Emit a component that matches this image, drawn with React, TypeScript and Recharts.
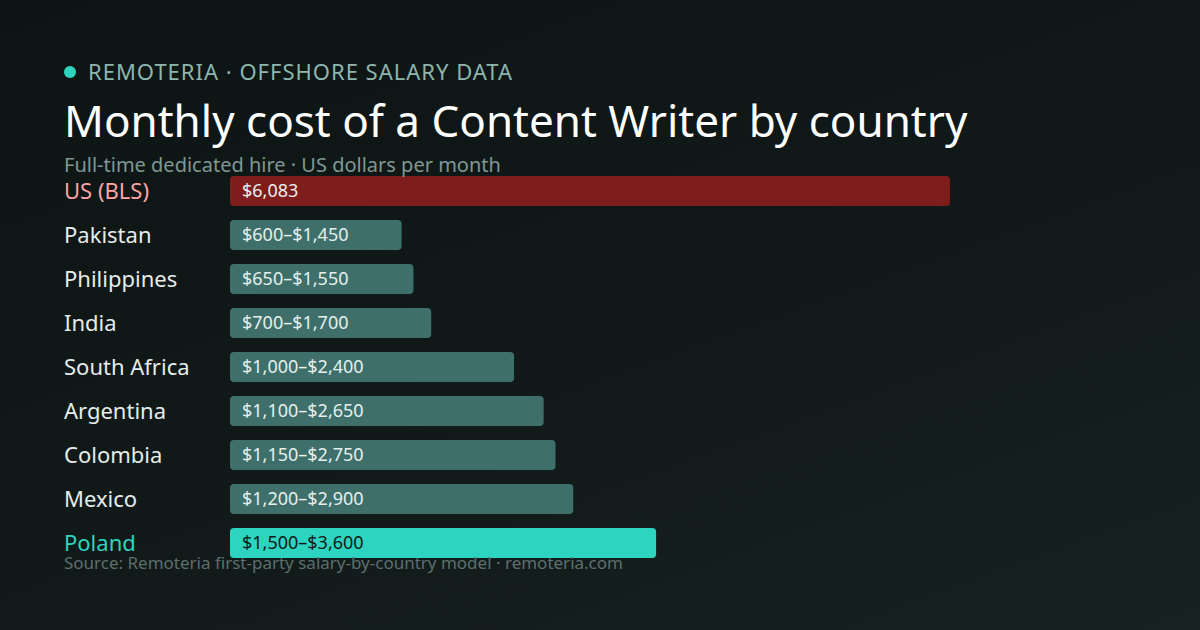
import React from "react"
import { BarChart, Bar, XAxis, YAxis, Cell, LabelList } from "recharts"

const countries = [
  "US (BLS)", "Pakistan", "Philippines", "India", "South Africa",
  "Argentina", "Colombia", "Mexico", "Poland",
]
const lowValues = [6083, 600, 650, 700, 1000, 1100, 1150, 1200, 1500]
const highValues = [6083, 1450, 1550, 1700, 2400, 2650, 2750, 2900, 3600]

const FONT = "'Noto Sans', sans-serif"
const fmt = (v: number) => "$" + v.toLocaleString("en-US")

const rows = countries.map((name, i) => ({
  name,
  low: lowValues[i],
  high: highValues[i],
  label: lowValues[i] === highValues[i] ? fmt(highValues[i]) : `${fmt(lowValues[i])}–${fmt(highValues[i])}`,
}))

// first row is the US benchmark, last is the highlighted country
const barColor = (i: number) => (i === 0 ? "#7f1d1d" : i === rows.length - 1 ? "#2dd4bf" : "#3e6f6a")
const nameColor = (i: number) => (i === 0 ? "#fca5a5" : i === rows.length - 1 ? "#2dd4bf" : "#e5ecea")

function CountryTick(props: any) {
  const { y, payload, index } = props
  return (
    <text x={64} y={y} dy={8} textAnchor="start" fontFamily={FONT} fontSize={22} fill={nameColor(index)}>
      {payload.value}
    </text>
  )
}

function BarText(props: any) {
  const { x, y, height, value, index } = props
  return (
    <text x={x + 12} y={y + height / 2} dy={6} fontFamily={FONT} fontSize={18}
      fill={index === rows.length - 1 ? "#0f1a18" : "#e6efed"}>
      {value}
    </text>
  )
}

export default function App() {
  return (
    <div style={{
      position: "absolute", left: 0, top: 0, width: 1200, height: 630, overflow: "hidden",
      background: "linear-gradient(160deg, #0d1514 0%, #111a19 55%, #172120 100%)",
    }}>
      <BarChart width={1200} height={630} data={rows} layout="vertical"
        margin={{ top: 169, right: 250, bottom: 65, left: 0 }}>
        <XAxis type="number" domain={[0, 6083]} hide />
        <YAxis type="category" dataKey="name" width={230} axisLine={false} tickLine={false}
          tick={<CountryTick />} interval={0} />
        <Bar dataKey="high" barSize={30} radius={4} isAnimationActive={false}>
          {rows.map((r, i) => <Cell key={r.name} fill={barColor(i)} />)}
          <LabelList dataKey="label" content={<BarText />} />
        </Bar>
      </BarChart>
      <svg width={1200} height={630} style={{ position: "absolute", left: 0, top: 0, pointerEvents: "none" }}>
        <circle cx={70} cy={72} r={6} fill="#2dd4bf" />
        <text x={88} y={80} fontFamily={FONT} fontSize={22} letterSpacing={1} fill="#8db5ae">
          REMOTERIA · OFFSHORE SALARY DATA
        </text>
        <text x={64} y={137} fontFamily={FONT} fontSize={44} fill="#ffffff">
          Monthly cost of a Content Writer by country
        </text>
        <text x={64} y={172} fontFamily={FONT} fontSize={20} fill="#7f9893">
          Full-time dedicated hire · US dollars per month
        </text>
        <text x={64} y={569} fontFamily={FONT} fontSize={17} fill="#5c6f6c">
          Source: Remoteria first-party salary-by-country model · remoteria.com
        </text>
      </svg>
    </div>
  )
}
